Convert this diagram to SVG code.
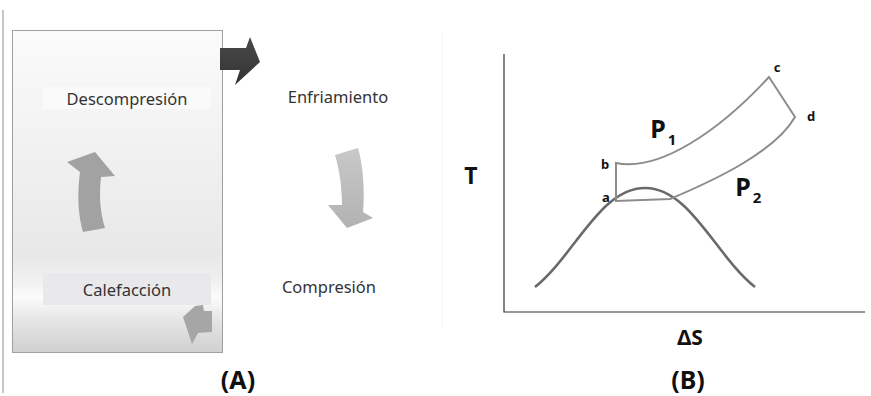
<svg xmlns="http://www.w3.org/2000/svg" width="871" height="396" viewBox="0 0 871 396">
<defs>
<linearGradient id="panelG" x1="0" y1="0" x2="0" y2="1">
<stop offset="0" stop-color="#fbfbfb"/>
<stop offset="0.7" stop-color="#e8e8e8"/>
<stop offset="0.77" stop-color="#efefef"/>
<stop offset="0.83" stop-color="#fbfbfb"/>
<stop offset="0.9" stop-color="#e5e5e5"/>
<stop offset="1" stop-color="#d0d0d0"/>
</linearGradient>
<linearGradient id="darkG" x1="0" y1="0" x2="0" y2="1">
<stop offset="0" stop-color="#4a4a4a"/>
<stop offset="1" stop-color="#333"/>
</linearGradient>
<linearGradient id="downG" x1="0" y1="0" x2="0" y2="1">
<stop offset="0" stop-color="#c8c8c8"/>
<stop offset="1" stop-color="#b2b2b2"/>
</linearGradient>
</defs>
<style>
.lbl{font-family:"Noto Sans","Open Sans",sans-serif;font-size:16.5px;fill:#333;text-anchor:middle}
.bold{font-family:"Noto Sans","Open Sans",sans-serif;font-weight:bold;fill:#111;text-anchor:middle}
.pt{font-family:"Noto Sans","Open Sans",sans-serif;font-weight:bold;font-size:13px;fill:#111;text-anchor:middle}
.curve{fill:none;stroke:#8c8c8c;stroke-width:2;stroke-linejoin:miter}
.bell{fill:none;stroke:#6a6a6a;stroke-width:2.6}
.axis{fill:none;stroke:#333;stroke-width:1.2}
</style>
<rect width="871" height="396" fill="#fff"/>
<line x1="3" y1="10" x2="3" y2="393" stroke="#b5b5b5" stroke-width="1.5"/>
<line x1="442.5" y1="32" x2="442.5" y2="328" stroke="#ececec" stroke-width="1" stroke-dasharray="1 1"/>

<g id="panel-a">
<rect x="12.5" y="30.5" width="210" height="322" fill="url(#panelG)" stroke="#a0a0a0" stroke-width="1"/>
</g>
<g id="node-descompresion">
<rect x="43" y="87" width="168" height="22" fill="#fafafa"/>
<text class="lbl" x="127" y="105">Descompresión</text>
</g>
<g id="node-calefaccion">
<rect x="43" y="273" width="168" height="32" fill="#e9e9eb"/>
<text class="lbl" x="127" y="296">Calefacción</text>
</g>
<g id="node-enfriamiento">
<text class="lbl" x="338" y="103">Enfriamiento</text>
</g>
<g id="node-compresion">
<text class="lbl" x="329" y="293">Compresión</text>
</g>
<g id="connectors">
<path d="M220,48 L246,48 L250,37 L260,62 L235,85 L240,70 L220,70 Z" fill="url(#darkG)"/>
<path d="M83,232 C 78,215 77,195 80,172 L67,162 L95,152 L115,176 L101,177 C 99,195 100,212 105,228 Z" fill="#a2a2a2"/>
<path d="M335,155 L358,148 C 363,165 365,190 363,212 L373,218 L347,228 L328,205 L342,205 C 342,190 340,172 335,155 Z" fill="url(#downG)"/>
<path d="M183,317 L195,306 L203,305 L204,311 L212,311 L212,332 L198,333 L192,344 Z" fill="#a6a6a6"/>
</g>
<text class="bold" x="238" y="389" font-size="25">(A)</text>

<g id="graph-b">
<polyline class="axis" points="504,54 504,312 865,312"/>
<path class="bell" d="M535,287 C 575,255 600,188 645,188 C 690,188 715,255 755,287"/>
<path class="curve" d="M616,201 L616,163 C 660,172 720,130 769,77 L795,117 C 775,152 715,180 670,199 Z"/>
<text class="bold" x="471" y="184" font-size="23">T</text>
<text class="bold" x="690" y="345" font-size="21">ΔS</text>
<text class="bold" x="688" y="389" font-size="25">(B)</text>
<text class="bold" x="658" y="138" font-size="25">P</text>
<text class="bold" x="672" y="145" font-size="15">1</text>
<text class="bold" x="743" y="196" font-size="25">P</text>
<text class="bold" x="757" y="203" font-size="15">2</text>
<text class="pt" x="605" y="169">b</text>
<text class="pt" x="606" y="202">a</text>
<text class="pt" x="777" y="72">c</text>
<text class="pt" x="811" y="121">d</text>
</g>
</svg>
